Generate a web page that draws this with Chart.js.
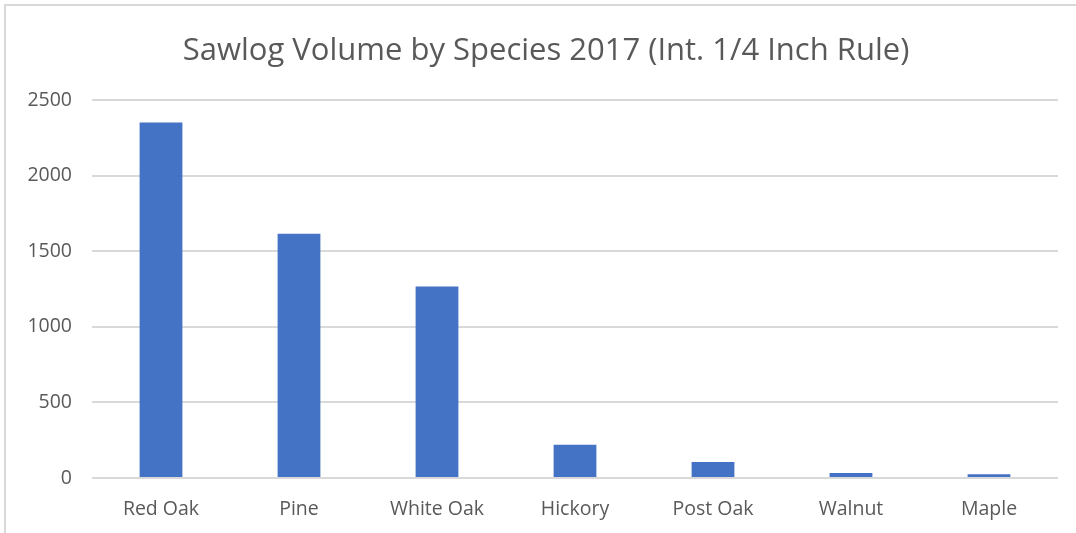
<!DOCTYPE html>
<html>
<head>
<meta charset="utf-8">
<script src="https://cdn.jsdelivr.net/npm/chart.js@4/dist/chart.umd.min.js"></script>
<style>
  html, body { margin: 0; padding: 0; background: #ffffff; }
  #wrap { position: relative; width: 1076px; height: 533px; }
</style>
</head>
<body>
<div id="wrap"><canvas id="c" width="1076" height="533"></canvas></div>
<script>
const species = ['Red Oak', 'Pine', 'White Oak', 'Hickory', 'Post Oak', 'Walnut', 'Maple'];
const volume = [2352, 1616, 1268, 220, 106, 33, 24];
const yTicks = [0, 500, 1000, 1500, 2000, 2500];

const TEXT = '#595959';
const GRID = '#d9d9d9';
const FONT = "'Open Sans', 'Noto Sans', sans-serif";

// white background plus the thin frame on the top and left edges
const framePlugin = {
  id: 'frame',
  beforeDraw(chart) {
    const ctx = chart.ctx;
    ctx.save();
    ctx.fillStyle = '#ffffff';
    ctx.fillRect(0, 0, chart.width, chart.height);
    ctx.strokeStyle = GRID;
    ctx.lineWidth = 2;
    ctx.beginPath();
    ctx.moveTo(5, chart.height);
    ctx.lineTo(5, 5);
    ctx.lineTo(chart.width, 5);
    ctx.stroke();
    ctx.restore();
  }
};

// centre the title over the region right of the frame's inner margin
const titleShift = {
  id: 'titleShift',
  afterLayout(chart) {
    if (chart.titleBlock) chart.titleBlock.left += 22;
  }
};

new Chart(document.getElementById('c'), {
  type: 'bar',
  data: {
    labels: species,
    datasets: [{
      data: volume,
      backgroundColor: '#4472c4',
      borderWidth: 0,
      categoryPercentage: 1,
      barPercentage: 0.31
    }]
  },
  options: {
    responsive: false,
    animation: false,
    devicePixelRatio: 1,
    layout: { padding: { left: 12, right: 18, top: 33, bottom: 10 } },
    plugins: {
      legend: { display: false },
      tooltip: { enabled: false },
      title: {
        display: true,
        text: 'Sawlog Volume by Species 2017 (Int. 1/4 Inch Rule)',
        color: TEXT,
        font: { family: FONT, size: 31, weight: 'normal' },
        padding: { top: 0, bottom: 30 }
      }
    },
    scales: {
      x: {
        afterFit(scale) { scale.height = 45; },
        grid: { display: false, drawTicks: false },
        border: { display: false },
        ticks: { color: TEXT, font: { family: FONT, size: 19.5 }, padding: 20 }
      },
      y: {
        min: 0,
        max: 2500,
        afterBuildTicks(scale) { scale.ticks = yTicks.map(v => ({ value: v })); },
        afterFit(scale) { scale.width = 80; },
        grid: { color: GRID, lineWidth: 2, drawTicks: false },
        border: { display: false },
        ticks: {
          color: TEXT,
          font: { family: FONT, size: 19.5 },
          padding: 20,
          callback: v => String(v)
        }
      }
    }
  },
  plugins: [framePlugin, titleShift]
});
</script>
</body>
</html>
